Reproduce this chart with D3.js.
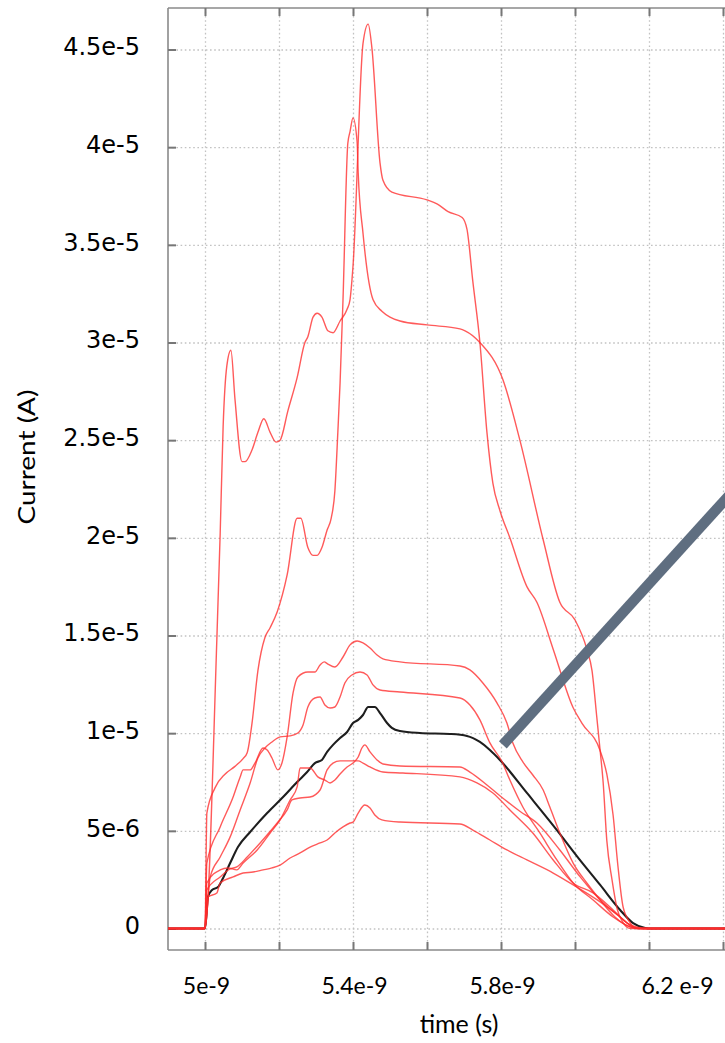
<!DOCTYPE html>
<html>
<head>
<meta charset="utf-8">
<script src="https://cdn.jsdelivr.net/npm/d3@7"></script>
<style>
  html, body { margin: 0; padding: 0; background: #fff; }
  svg { display: block; }
</style>
</head>
<body>
<svg id="chart" width="725" height="1043"></svg>
<script>
// Transient currents: time in ns, current in µA.
const seriesSpike = [[4.9,0],[5.0,0],[5.032,14.8],[5.041,20.2],[5.049,25.7],[5.059,28.8],[5.070,29.6],[5.081,27.1],[5.100,23.9],[5.108,23.9],[5.127,24.5],[5.143,25.4],[5.159,26.1],[5.176,25.4],[5.192,24.9],[5.203,25.0],[5.224,26.5],[5.249,28.2],[5.270,30.0],[5.278,30.3],[5.292,31.3],[5.303,31.5],[5.316,31.3],[5.332,30.6],[5.346,30.5],[5.365,31.1],[5.384,31.7],[5.392,32.2],[5.400,33.9],[5.427,45.3],[5.441,46.3],[5.451,45.1],[5.473,39.2],[5.481,38.3],[5.505,37.7],[5.600,37.3],[5.627,37.1],[5.657,36.7],[5.695,36.4],[5.708,35.8],[5.724,33.1],[5.743,30.0],[5.762,25.4],[5.778,22.8],[5.797,21.4],[5.824,20.0],[5.870,17.5],[5.897,16.7],[5.941,14.3],[5.995,11.3],[6.019,10.5],[6.068,9.1],[6.086,7.9],[6.103,5.8],[6.116,3.2],[6.130,1.1],[6.149,0.3],[6.165,0],[6.42,0]];

const seriesPeak41 = [[4.9,0],[5.0,0],[5.005,5.9],[5.027,7.2],[5.054,7.9],[5.081,8.3],[5.103,8.7],[5.114,9.0],[5.127,10.5],[5.143,13.2],[5.162,14.9],[5.176,15.4],[5.195,16.2],[5.222,18.1],[5.249,21.0],[5.259,21.0],[5.278,19.5],[5.292,19.1],[5.303,19.1],[5.316,19.5],[5.330,20.4],[5.341,21.0],[5.351,22.4],[5.359,25.4],[5.365,27.9],[5.373,32.2],[5.386,40.2],[5.392,40.8],[5.400,41.5],[5.411,40.3],[5.414,38.7],[5.427,35.6],[5.454,32.2],[5.478,31.6],[5.500,31.3],[5.527,31.1],[5.600,30.9],[5.689,30.7],[5.703,30.6],[5.743,30.0],[5.805,28.1],[5.851,25.0],[5.914,19.9],[5.959,16.7],[6.000,15.8],[6.032,14.3],[6.046,13.2],[6.059,10.8],[6.068,9.1],[6.076,7.5],[6.086,4.5],[6.100,2.5],[6.114,1.0],[6.130,0.3],[6.150,0],[6.42,0]];

const seriesPeak15 = [[4.9,0],[5.0,0],[5.005,3.35],[5.041,5.2],[5.076,6.73],[5.095,7.76],[5.103,8.12],[5.122,8.12],[5.135,8.47],[5.157,9.24],[5.168,9.14],[5.181,8.73],[5.197,8.12],[5.208,8.47],[5.222,9.81],[5.238,12.06],[5.251,12.88],[5.278,13.13],[5.297,13.13],[5.311,13.49],[5.322,13.65],[5.332,13.54],[5.351,13.39],[5.373,13.9],[5.392,14.52],[5.411,14.72],[5.427,14.62],[5.446,14.36],[5.465,14.0],[5.481,13.8],[5.527,13.65],[5.689,13.44],[5.716,13.24],[5.751,12.57],[5.789,11.55],[5.816,10.52],[5.832,9.5],[5.859,8.53],[5.886,7.86],[5.914,7.09],[5.932,6.22],[5.959,4.89],[5.995,3.35],[6.032,2.33],[6.068,1.46],[6.108,0.59],[6.149,0.08],[6.17,0],[6.42,0]];

const seriesPeak13 = [[4.9,0],[5.0,0],[5.014,2.64],[5.041,3.66],[5.068,4.69],[5.095,6.07],[5.122,7.45],[5.143,8.73],[5.162,9.24],[5.181,9.55],[5.203,9.81],[5.230,9.86],[5.251,10.01],[5.265,10.42],[5.278,11.34],[5.297,11.8],[5.311,11.85],[5.324,11.44],[5.338,11.29],[5.351,11.34],[5.365,11.85],[5.378,12.57],[5.397,12.98],[5.419,13.13],[5.438,12.98],[5.454,12.47],[5.473,12.21],[5.527,12.11],[5.689,11.8],[5.716,11.44],[5.743,10.68],[5.770,9.5],[5.803,8.53],[5.824,7.6],[5.859,6.22],[5.905,4.89],[5.951,3.51],[5.995,2.33],[6.049,1.46],[6.103,0.59],[6.149,0.08],[6.17,0],[6.42,0]];

const seriesPeak9 = [[4.9,0],[5.0,0],[5.005,2.33],[5.041,3.0],[5.062,3.1],[5.086,3.0],[5.103,3.35],[5.141,4.02],[5.176,4.89],[5.203,5.56],[5.230,6.58],[5.249,7.25],[5.257,8.22],[5.284,8.22],[5.305,7.76],[5.324,7.6],[5.338,7.45],[5.351,7.6],[5.365,7.91],[5.384,8.27],[5.400,8.47],[5.414,8.78],[5.424,9.24],[5.432,9.4],[5.446,9.04],[5.465,8.63],[5.481,8.42],[5.527,8.32],[5.689,8.27],[5.716,8.01],[5.762,7.35],[5.797,6.8],[5.851,6.0],[5.897,5.4],[5.959,4.02],[6.014,2.64],[6.068,1.46],[6.122,0.59],[6.157,0.08],[6.18,0],[6.42,0]];

const seriesFlat8 = [[4.9,0],[5.0,0],[5.005,1.97],[5.041,2.64],[5.068,3.05],[5.086,3.15],[5.114,3.66],[5.149,4.38],[5.195,5.4],[5.222,6.07],[5.235,6.58],[5.257,6.68],[5.284,6.73],[5.311,7.09],[5.330,8.12],[5.346,8.47],[5.365,8.58],[5.400,8.58],[5.414,8.58],[5.427,8.47],[5.446,8.27],[5.481,8.01],[5.535,7.96],[5.689,7.76],[5.735,7.45],[5.778,6.94],[5.824,6.07],[5.886,4.89],[5.941,3.51],[5.995,2.33],[6.049,1.82],[6.103,0.95],[6.141,0.28],[6.176,0.03],[6.19,0],[6.42,0]];

const seriesPeak6 = [[4.9,0],[5.0,0],[5.008,1.61],[5.032,1.82],[5.041,2.33],[5.076,2.64],[5.103,2.84],[5.130,2.89],[5.157,3.0],[5.181,3.1],[5.203,3.25],[5.230,3.61],[5.257,3.87],[5.284,4.17],[5.311,4.38],[5.330,4.53],[5.351,4.89],[5.373,5.2],[5.392,5.4],[5.400,5.45],[5.414,5.91],[5.432,6.32],[5.446,6.17],[5.459,5.81],[5.478,5.56],[5.527,5.45],[5.689,5.35],[5.724,5.04],[5.770,4.53],[5.816,4.02],[5.870,3.51],[5.941,2.84],[6.005,2.12],[6.068,1.36],[6.122,0.59],[6.157,0.08],[6.18,0],[6.42,0]];

// highlighted trace
const seriesHighlight = [[4.9,0],[5.0,0],[5.008,1.61],[5.019,1.97],[5.035,2.12],[5.049,2.59],[5.068,3.35],[5.089,4.17],[5.122,4.94],[5.168,5.91],[5.211,6.73],[5.249,7.5],[5.276,8.01],[5.297,8.47],[5.316,8.63],[5.330,9.04],[5.346,9.4],[5.365,9.75],[5.384,10.06],[5.400,10.52],[5.414,10.68],[5.427,10.93],[5.441,11.34],[5.459,11.34],[5.473,11.03],[5.492,10.52],[5.505,10.27],[5.527,10.11],[5.581,10.01],[5.662,9.96],[5.708,9.86],[5.743,9.55],[5.770,9.14],[5.797,8.63],[5.870,6.94],[5.951,5.04],[6.005,3.71],[6.068,2.23],[6.122,0.95],[6.157,0.28],[6.19,0.03],[6.21,0],[6.42,0]];

const redSeries = [seriesSpike, seriesPeak41, seriesPeak15, seriesPeak13, seriesPeak9, seriesFlat8, seriesPeak6];

// pointer annotation, from its tip outward (ns, µA)
const pointerTip = [5.805, 9.4];
const pointerTail = [6.473, 23.35];

// axes
const gridTimes = [5.0, 5.2, 5.4, 5.6, 5.8, 6.0, 6.2, 6.4];
const xLabelTimes = [5.0, 5.4, 5.8, 6.2];
const xTickLabels = ["5e-9", "5.4e-9", "5.8e-9", "6.2 e-9"];
const yTickValues = [0, 5, 10, 15, 20, 25, 30, 35, 40, 45];
const yTickLabels = ["0", "5e-6", "1e-5", "1.5e-5", "2e-5", "2.5e-5", "3e-5", "3.5e-5", "4e-5", "4.5e-5"];
const xTitle = "time (s)";
const yTitle = "Current (A)";

// ---- layout ----
const frame = { left: 168, right: 760, top: 8, bottom: 950 };
const FONT = "Lato, 'Open Sans', sans-serif";
const TICK_FONT = "'DejaVu Sans', Verdana, sans-serif";

const svg = d3.select("#chart");

const x = d3.scaleLinear().domain([4.9, 6.4]).range([168, 723]);
const y = d3.scaleLinear().domain([0, 45]).range([928.5, 49.5]);

svg.append("rect").attr("width", 725).attr("height", 1043).attr("fill", "#fff");

// dotted grid
svg.append("g")
  .attr("transform", `translate(0,${frame.bottom})`)
  .call(d3.axisBottom(x).tickValues(gridTimes).tickSize(-(frame.bottom - frame.top)).tickFormat(""))
  .call(g => g.select(".domain").remove())
  .selectAll("line")
  .attr("stroke", "#c2c2c2").attr("stroke-width", 1.3).attr("stroke-dasharray", "1.6,2.6");

svg.append("g")
  .attr("transform", `translate(${frame.left},0)`)
  .call(d3.axisLeft(y).tickValues(yTickValues).tickSize(-(frame.right - frame.left)).tickFormat(""))
  .call(g => g.select(".domain").remove())
  .selectAll("line")
  .attr("stroke", "#c2c2c2").attr("stroke-width", 1.3).attr("stroke-dasharray", "1.6,2.6");

// plot frame
const frameG = svg.append("g").attr("stroke", "#8a8a8a").attr("stroke-width", 1.6).attr("fill", "none");
frameG.append("line").attr("x1", frame.left).attr("x2", frame.left).attr("y1", frame.top).attr("y2", frame.bottom);
frameG.append("line").attr("x1", frame.left).attr("x2", frame.right).attr("y1", frame.bottom).attr("y2", frame.bottom);
frameG.append("line").attr("x1", frame.left).attr("x2", frame.right).attr("y1", frame.top).attr("y2", frame.top);

// tick marks (inward, mirrored on top)
function styleTicks(g) {
  g.select(".domain").remove();
  g.selectAll(".tick line").attr("stroke", "#777").attr("stroke-width", 2);
}
svg.append("g")
  .attr("transform", `translate(0,${frame.bottom})`)
  .call(d3.axisBottom(x).tickValues(gridTimes).tickSize(-8).tickFormat(""))
  .call(styleTicks);
svg.append("g")
  .attr("transform", `translate(0,${frame.top})`)
  .call(d3.axisTop(x).tickValues(gridTimes).tickSize(-8).tickFormat(""))
  .call(styleTicks);

// y axis ticks + labels
const yAxisG = svg.append("g")
  .attr("transform", `translate(${frame.left},0)`)
  .call(d3.axisLeft(y).tickValues(yTickValues).tickSize(-8).tickPadding(28).tickFormat((d, i) => yTickLabels[i]))
  .call(styleTicks);
yAxisG.selectAll(".tick text")
  .attr("dy", "0.22em")
  .attr("fill", "#000")
  .style("font-family", TICK_FONT).style("font-size", "24px");

// x axis labels
const xAxisG = svg.append("g")
  .attr("transform", `translate(0,${frame.bottom})`)
  .call(d3.axisBottom(x).tickValues(xLabelTimes).tickSize(0).tickFormat((d, i) => xTickLabels[i]));
xAxisG.select(".domain").remove();
xAxisG.selectAll(".tick text")
  .attr("y", 44).attr("dy", null)
  .attr("dx", d => (xTickLabels[xLabelTimes.indexOf(d)].includes(" ") ? 28 : 1))
  .attr("fill", "#000")
  .style("font-family", FONT).style("font-size", "23px");

// axis titles
svg.append("text")
  .attr("x", 459).attr("y", 1033)
  .attr("text-anchor", "middle")
  .style("font-family", FONT).style("font-size", "25px")
  .text(xTitle);

svg.append("text")
  .attr("transform", "translate(35,457) rotate(-90)")
  .attr("text-anchor", "middle")
  .attr("textLength", 135).attr("lengthAdjust", "spacingAndGlyphs")
  .style("font-family", FONT).style("font-size", "24px")
  .text(yTitle);

// curves
svg.append("clipPath").attr("id", "plotClip")
  .append("rect")
  .attr("x", frame.left).attr("y", frame.top)
  .attr("width", frame.right - frame.left).attr("height", frame.bottom - frame.top);

const line = d3.line()
  .x(d => x(d[0]))
  .y(d => y(d[1]))
  .curve(d3.curveMonotoneX);

const curves = svg.append("g").attr("clip-path", "url(#plotClip)").attr("fill", "none");

curves.append("path")
  .datum(seriesHighlight)
  .attr("d", line)
  .attr("stroke", "#1e1e1e")
  .attr("stroke-width", 2.1)
  .attr("stroke-linejoin", "round");

curves.selectAll("path.red")
  .data(redSeries)
  .join("path")
  .attr("class", "red")
  .attr("d", line)
  .attr("stroke", "#ff2b2b")
  .attr("stroke-opacity", 0.78)
  .attr("stroke-width", 1.4)
  .attr("stroke-linejoin", "round");

// pointer bar
svg.append("line")
  .attr("x1", x(pointerTip[0])).attr("y1", y(pointerTip[1]))
  .attr("x2", x(pointerTail[0])).attr("y2", y(pointerTail[1]))
  .attr("stroke", "#5f6e80")
  .attr("stroke-width", 10.5)
  .attr("stroke-linecap", "butt");
</script>
</body>
</html>
